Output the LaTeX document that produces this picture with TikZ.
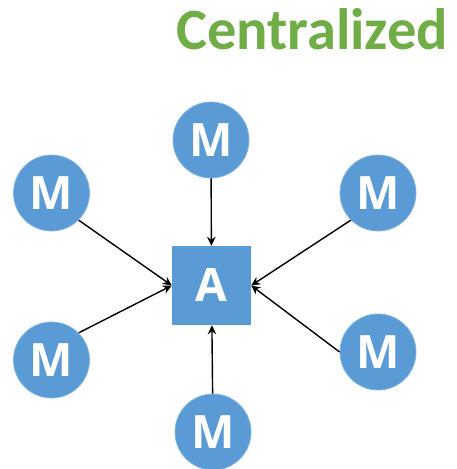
\documentclass[tikz,border=0pt]{standalone}
\usepackage{fontspec}
\setmainfont{Open Sans}
\newfontfamily\titlefont{Carlito}
\usetikzlibrary{arrows.meta}
\definecolor{nodeblue}{HTML}{5B9BD5}
\definecolor{titlegreen}{HTML}{70AD47}
\begin{document}
\begin{tikzpicture}[x=1pt,y=-1pt,
  mnode/.style={circle,fill=nodeblue,draw=nodeblue!75!white,line width=0.8pt,
    minimum size=76pt,inner sep=0pt,text=white,font=\fontsize{46}{46}\selectfont\bfseries},
  anode/.style={rectangle,fill=nodeblue,minimum size=79pt,inner sep=0pt,
    text=white,font=\fontsize{46}{46}\selectfont\bfseries},
  link/.style={line width=1.4pt,-{Stealth[length=9pt,width=8.5pt]}}]
  \useasboundingbox (0,0) rectangle (456,469);
  % heading
  \node[anchor=base east,inner sep=0pt,text=titlegreen,
        font=\titlefont\fontsize{58.5}{58.5}\selectfont\bfseries] (title) at (448,49) {Centralized};
  % central node
  \node[anode] (A) at (211.5,285.5) {A};
  % surrounding nodes
  \node[mnode] (mT)  at (211,140) {M};
  \node[mnode] (mLU) at (51.5,193) {M};
  \node[mnode] (mLL) at (51.5,360) {M};
  \node[mnode] (mRU) at (378,193) {M};
  \node[mnode] (mRL) at (378,352) {M};
  \node[mnode] (mB)  at (213,432) {M};
  % connectors into the centre
  \draw[link] (mT) -- (A);
  \draw[link] (mB) -- (A);
  \draw[link] (mLU.-45) -- (A.west);
  \draw[link] (mLL.45) -- (A.west);
  \draw[link] (mRU.225) -- (A.east);
  \draw[link] (mRL.west) -- (A.east);
\end{tikzpicture}
\end{document}
